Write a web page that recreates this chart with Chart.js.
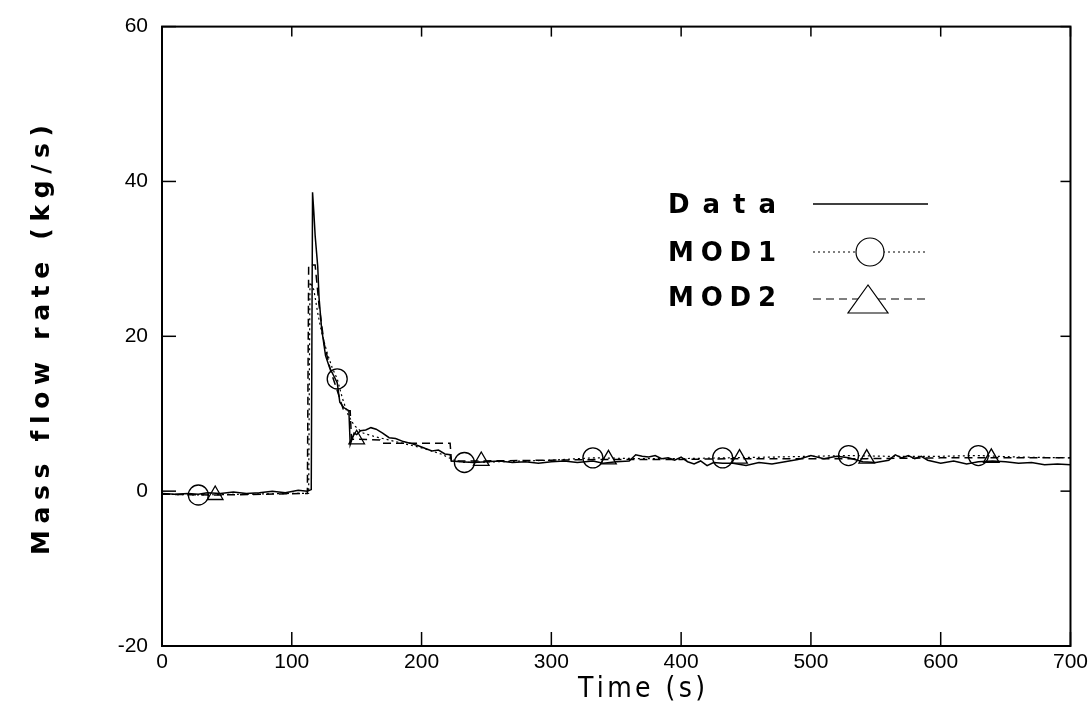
<!DOCTYPE html>
<html>
<head>
<meta charset="utf-8">
<script src="https://cdn.jsdelivr.net/npm/chart.js@4.4.1/dist/chart.umd.min.js"></script>
<style>
  body { margin: 0; background: #fff; }
  canvas { display: block; }
</style>
</head>
<body>
<canvas id="flowChart" width="1092" height="715"></canvas>
<script>
var timeData = [0,10,20,28,35,45,55,65,75,85,95,105,112,115,116,117,118,120,121,123,126,129,132,135,137,140,144,145,146,148,150,153,157,161,165,170,175,180,186,191,197,203,208,213,218,222,223,230,240,250,260,270,280,290,300,310,320,332,340,350,360,365,370,375,380,385,390,395,400,405,410,415,420,425,432,440,450,460,470,480,490,500,510,520,529,540,550,560,565,570,575,580,585,590,600,610,620,629,640,650,660,670,680,690,700];
var flowData = [-0.3,-0.4,-0.3,-0.4,-0.2,-0.3,-0.1,-0.3,-0.2,0.0,-0.2,0.1,0.0,0.2,38.6,36,33,29,25,21,17.5,16,15,14,11.5,10.8,10.4,6.0,6.5,7.5,7.3,7.8,7.9,8.2,8.0,7.5,6.9,6.8,6.4,6.2,5.9,5.5,5.2,5.3,4.8,4.7,3.9,3.8,3.7,3.8,3.9,3.7,3.8,3.6,3.8,3.9,3.7,3.9,3.6,3.8,3.9,4.7,4.5,4.4,4.6,4.2,4.3,4.0,4.4,3.8,3.5,3.9,3.3,3.7,3.6,3.6,3.3,3.7,3.5,3.8,4.1,4.6,4.2,4.5,4.3,3.8,3.7,4.0,4.7,4.3,4.6,4.2,4.5,4.0,3.6,3.9,3.5,3.8,3.9,3.8,3.6,3.7,3.4,3.5,3.4];

// model 1
var timeMod1 = [0,28,60,100,113,114,117,120,123,127,131,135,139,143,148,155,165,180,200,215,225,233,260,300,332,370,400,432,470,500,529,560,600,629,660,700];
var flowMod1 = [-0.4,-0.5,-0.4,-0.3,-0.3,27,26,23,20.5,18,16,14.5,12,10,8.5,7.5,7.0,6.4,5.6,4.8,4.0,3.7,3.8,4.0,4.3,4.2,4.2,4.3,4.4,4.5,4.6,4.5,4.5,4.6,4.4,4.3];
var markMod1 = [28,135,233,332,432,529,629];

// model 2
var timeMod2 = [0,41,80,112,113,118,121,125,130,135,140,145,146,150,168,169,222,223,246,300,344,400,445,500,543,600,639,670,700];
var flowMod2 = [-0.4,-0.5,-0.4,-0.3,29.2,29.2,24,19,15.5,13,10.4,10.4,6.7,6.7,6.6,6.2,6.2,3.9,3.9,4.0,4.1,4.1,4.2,4.2,4.2,4.3,4.3,4.3,4.3];
var markMod2 = [41,150,246,344,445,543,639];

var xTicks = [0,100,200,300,400,500,600,700];
var yTicks = [-20,0,20,40,60];

function xy(ts, vs) {
  var out = [];
  for (var i in ts) out.push({x: ts[i], y: vs[i]});
  return out;
}

// draw text stretched to a given width (letter spaced like the plotter font)
function spacedText(ctx, text, left, cy, width) {
  var widths = [], sum = 0;
  for (var i = 0; i < text.length; i++) {
    var w = ctx.measureText(text[i]).width;
    widths.push(w); sum += w;
  }
  var gap = text.length > 1 ? (width - sum) / (text.length - 1) : 0;
  var x = left;
  ctx.textAlign = 'left';
  ctx.textBaseline = 'middle';
  for (var j = 0; j < text.length; j++) {
    ctx.fillText(text[j], x, cy);
    x += widths[j] + gap;
  }
}

function seg(ctx, x1, y1, x2, y2) {
  ctx.beginPath(); ctx.moveTo(x1, y1); ctx.lineTo(x2, y2); ctx.stroke();
}

var decor = {
  id: 'decor',
  afterDraw: function(chart) {
    var ctx = chart.ctx, a = chart.chartArea;
    var xs = chart.scales.x, ys = chart.scales.y;
    ctx.save();
    ctx.strokeStyle = '#000';
    ctx.fillStyle = '#000';

    // frame
    ctx.lineWidth = 2;
    ctx.strokeRect(a.left, a.top, a.right - a.left, a.bottom - a.top);

    // inward ticks
    ctx.lineWidth = 1.5;
    xTicks.forEach(function(v) {
      var px = xs.getPixelForValue(v);
      seg(ctx, px, a.bottom, px, a.bottom - 14);
      seg(ctx, px, a.top, px, a.top + 10);
    });
    yTicks.forEach(function(v) {
      var py = ys.getPixelForValue(v);
      seg(ctx, a.left, py, a.left + 14, py);
      seg(ctx, a.right, py, a.right - 10, py);
    });

    // axis titles
    ctx.font = 'bold 25px "DejaVu Sans"';
    ctx.save();
    ctx.translate(42, 340);
    ctx.rotate(-Math.PI / 2);
    spacedText(ctx, 'Mass flow rate (kg/s)', -215, 0, 430);
    ctx.restore();

    ctx.font = '28px "Liberation Sans Narrow", "DejaVu Sans Condensed"';
    spacedText(ctx, 'Time (s)', 578, 690, 127);

    // legend
    var rows = [206, 254, 299];
    ctx.font = 'bold 26px "DejaVu Sans"';
    chart.data.datasets.forEach(function(ds, i) {
      spacedText(ctx, ds.label, 668, rows[i], 108);
    });
    ctx.lineWidth = 1.4;
    seg(ctx, 813, 204, 928, 204);

    ctx.lineWidth = 1.2;
    ctx.setLineDash([2, 3]);
    seg(ctx, 813, 252, 928, 252);
    ctx.setLineDash([]);
    ctx.beginPath();
    ctx.arc(870, 252, 14, 0, Math.PI * 2);
    ctx.fillStyle = '#fff'; ctx.fill(); ctx.stroke();

    ctx.setLineDash([8, 5]);
    seg(ctx, 813, 299, 928, 299);
    ctx.setLineDash([]);
    ctx.beginPath();
    ctx.moveTo(868, 285); ctx.lineTo(848, 313); ctx.lineTo(888, 313); ctx.closePath();
    ctx.fill(); ctx.stroke();

    ctx.restore();
  }
};

var tickFont = {family: '"Liberation Sans", Arial, sans-serif', size: 21};

var ctx = document.getElementById('flowChart');
var flowChart = new Chart(ctx, {
  type: 'line',
  data: {
    datasets: [
      {
        label: 'Data',
        data: xy(timeData, flowData),
        borderColor: '#000',
        borderWidth: 1.5,
        pointRadius: 0,
        tension: 0
      },
      {
        label: 'MOD1',
        data: xy(timeMod1, flowMod1),
        borderColor: '#000',
        borderWidth: 1.2,
        borderDash: [2, 3],
        pointStyle: 'circle',
        pointRadius: function(c) { return c.raw && markMod1.indexOf(c.raw.x) >= 0 ? 10 : 0; },
        pointBorderColor: '#000',
        pointBackgroundColor: 'rgba(0,0,0,0)',
        pointBorderWidth: 1.3,
        tension: 0
      },
      {
        label: 'MOD2',
        data: xy(timeMod2, flowMod2),
        borderColor: '#000',
        borderWidth: 1.5,
        borderDash: [8, 5],
        pointStyle: 'triangle',
        pointRadius: function(c) { return c.raw && markMod2.indexOf(c.raw.x) >= 0 ? 9 : 0; },
        pointBorderColor: '#000',
        pointBackgroundColor: 'rgba(0,0,0,0)',
        pointBorderWidth: 1.3,
        tension: 0
      }
    ]
  },
  options: {
    responsive: false,
    animation: false,
    devicePixelRatio: 1,
    layout: { padding: { top: 18, right: 20, left: 0, bottom: 0 } },
    plugins: { legend: { display: false }, tooltip: { enabled: false } },
    scales: {
      x: {
        type: 'linear',
        min: 0, max: 700,
        afterFit: function(s) { s.height = 69; },
        afterBuildTicks: function(s) { s.ticks = xTicks.map(function(v) { return {value: v}; }); },
        ticks: { font: tickFont, color: '#000', padding: 4, maxRotation: 0 },
        grid: { display: false, drawTicks: false },
        border: { display: false }
      },
      y: {
        min: -20, max: 60,
        afterFit: function(s) { s.width = 162; },
        afterBuildTicks: function(s) { s.ticks = yTicks.map(function(v) { return {value: v}; }); },
        ticks: { font: tickFont, color: '#000', padding: 14 },
        grid: { display: false, drawTicks: false },
        border: { display: false }
      }
    }
  },
  plugins: [decor]
});
</script>
</body>
</html>
